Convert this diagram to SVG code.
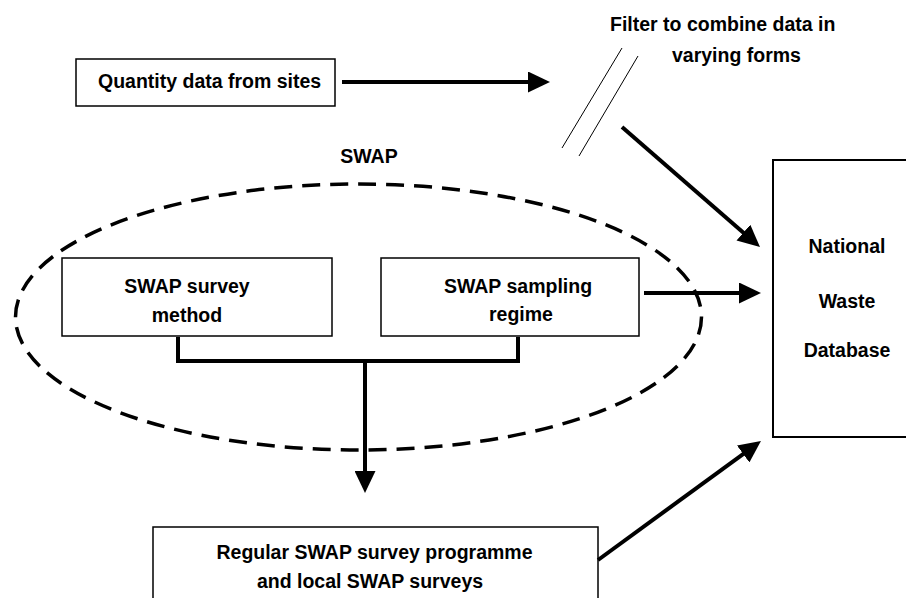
<svg xmlns="http://www.w3.org/2000/svg" width="906" height="598" viewBox="0 0 906 598">
  <style>
    .box { fill: #fff; stroke: #000; stroke-width: 1.5; }
    .db { fill: #fff; stroke: #000; stroke-width: 2; }
    .lbl { font-family: "Liberation Sans", Arial, sans-serif; font-weight: bold; font-size: 19.5px; fill: #000; }
    .mid { text-anchor: middle; }
    .flow { fill: none; stroke: #000; stroke-width: 4; }
    .filter { stroke: #000; stroke-width: 1; }
    .group { fill: none; stroke: #000; stroke-width: 3.5; stroke-dasharray: 18 10; }
  </style>
  <defs>
    <marker id="head" viewBox="0 0 22 21" refX="2" refY="10.5" markerWidth="22" markerHeight="21" markerUnits="userSpaceOnUse" orient="auto">
      <path d="M0,0 L22,10.5 L0,21 Z" fill="#000"/>
    </marker>
  </defs>

  <rect width="906" height="598" fill="#fff"/>

  <!-- SWAP grouping boundary -->
  <g id="swap">
    <ellipse class="group" cx="358.5" cy="317" rx="343" ry="133"/>
    <text class="lbl mid" x="369" y="163">SWAP</text>
  </g>

  <!-- filter stage -->
  <g id="filter">
    <line class="filter" x1="622" y1="48" x2="562" y2="148"/>
    <line class="filter" x1="638" y1="56" x2="579" y2="156"/>
    <text class="lbl" x="610" y="31">Filter to combine data in</text>
    <text class="lbl" x="672" y="62">varying forms</text>
  </g>

  <g id="quantity">
    <rect class="box" x="76" y="59" width="259" height="47"/>
    <text class="lbl" x="98" y="88">Quantity data from sites</text>
  </g>

  <g id="survey-method">
    <rect class="box" x="62" y="258" width="270" height="78"/>
    <text class="lbl mid" x="187" y="293">SWAP survey</text>
    <text class="lbl mid" x="187" y="322">method</text>
  </g>

  <g id="sampling-regime">
    <rect class="box" x="381" y="258" width="258" height="78"/>
    <text class="lbl mid" x="518" y="293">SWAP sampling</text>
    <text class="lbl mid" x="521" y="321">regime</text>
  </g>

  <g id="national-db">
    <rect class="db" x="773" y="160" width="140" height="277"/>
    <text class="lbl mid" x="847" y="253">National</text>
    <text class="lbl mid" x="847" y="308">Waste</text>
    <text class="lbl mid" x="847" y="357">Database</text>
  </g>

  <g id="regular-surveys">
    <rect class="box" x="153" y="527" width="445" height="80"/>
    <text class="lbl mid" x="374.5" y="559">Regular SWAP survey programme</text>
    <text class="lbl mid" x="370" y="588">and local SWAP surveys</text>
  </g>

  <!-- connectors -->
  <g id="connectors">
    <path class="flow" d="M342,82 H530" marker-end="url(#head)"/>
    <path class="flow" d="M622,127 L744.9,233.9" marker-end="url(#head)"/>
    <path class="flow" d="M644,293 H741" marker-end="url(#head)"/>
    <path class="flow" d="M598,560 L744.8,452.8" marker-end="url(#head)"/>
    <path class="flow" d="M178,337 V361 H518 V337"/>
    <path class="flow" d="M365,361 V473" marker-end="url(#head)"/>
  </g>
</svg>
